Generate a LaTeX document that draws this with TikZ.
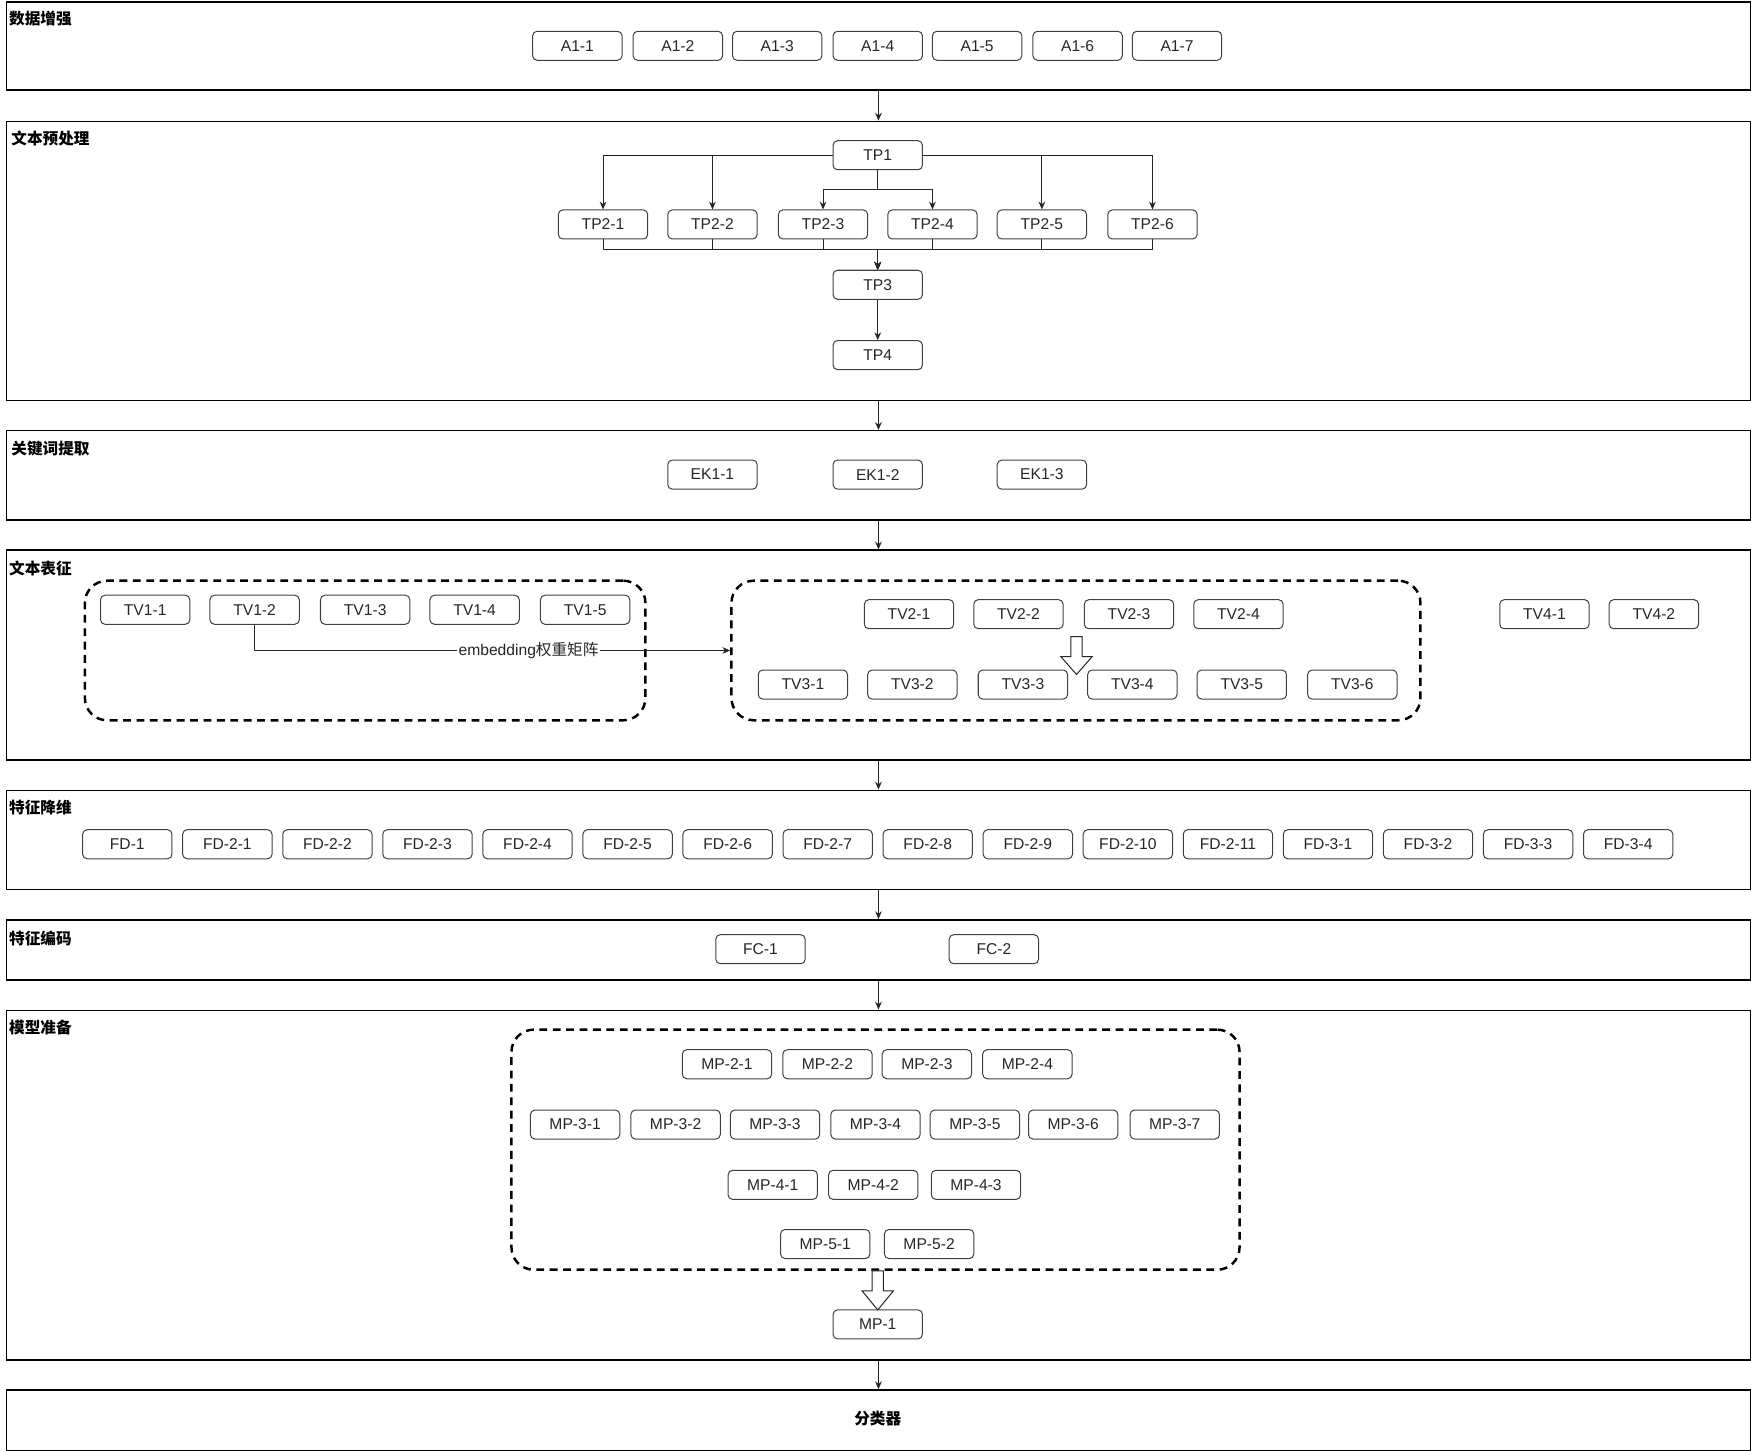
\documentclass[tikz,border=0pt]{standalone}
\usepackage{fontspec}
\setmainfont{Liberation Sans}
\newfontfamily\cjk{Noto Sans CJK SC}
\usetikzlibrary{arrows.meta,calc}
\begin{document}
\begin{tikzpicture}[x=1pt,y=-1pt,
  lane/.style={draw=black, line width=1.3pt, anchor=north west, minimum width=1562pt, inner sep=0pt},
  box/.style={draw=black!75, rounded corners=4pt, minimum width=80pt, minimum height=26pt,
    inner sep=0pt, font=\fontsize{14}{16}\selectfont, text=black!85, line width=0.9pt},
  title/.style={anchor=west, inner sep=0pt, font=\cjk\bfseries\fontsize{14}{16}\selectfont},
  flow/.style={-{Stealth[length=7pt,width=6pt]}, line width=0.9pt, draw=black!85},
  group/.style={draw, dash pattern=on 7pt off 5pt, line width=2.2pt, rounded corners=20pt, inner sep=0pt},
  hollow/.style={draw=black!85, fill=white, line width=0.9pt, line join=miter}
]
\useasboundingbox (0,0) rectangle (1568,1299);

% ---- swimlanes ----
\node[lane, minimum height=79pt]  (L1) at (5,1) {};
\node[lane, minimum height=250pt] (L2) at (5,108) {};
\node[lane, minimum height=80pt]  (L3) at (5,385) {};
\node[lane, minimum height=188pt] (L4) at (5,492) {};
\node[lane, minimum height=89pt]  (L5) at (5,707) {};
\node[lane, minimum height=54pt]  (L6) at (5,823) {};
\node[lane, minimum height=313pt] (L7) at (5,904) {};
\node[lane, minimum height=54pt]  (L8) at (5,1244) {};

\node[title] (t1) at (8,17)   {数据增强};
\node[title] (t2) at (10,124) {文本预处理};
\node[title] (t3) at (10,402) {关键词提取};
\node[title] (t4) at (8,509)  {文本表征};
\node[title] (t5) at (8,723)  {特征降维};
\node[title] (t6) at (8,840)  {特征编码};
\node[title] (t7) at (8,920)  {模型准备};
\node[title, anchor=center] (t8) at (786,1270) {分类器};

\foreach \a/\b in {L1/L2,L2/L3,L3/L4,L4/L5,L5/L6,L6/L7,L7/L8}
  \draw[flow] (\a.south) -- (\b.north);

% ---- data augmentation ----
\foreach \i/\x in {1/517,2/607,3/696,4/786,5/875,6/965,7/1054}
  \node[box] (A1-\i) at (\x,41) {A1-\i};

% ---- text preprocessing ----
\node[box] (TP1) at (786,139) {TP1};
\foreach \i/\x in {1/540,2/638,3/737,4/835,5/933,6/1032}
  \node[box] (TP2-\i) at (\x,201) {TP2-\i};
\node[box] (TP3) at (786,255) {TP3};
\node[box] (TP4) at (786,318) {TP4};

\draw[flow] (TP1.west) -| (TP2-1.north);
\draw[flow] (TP1.west) -| (TP2-2.north);
\draw[flow] (TP1.east) -| (TP2-5.north);
\draw[flow] (TP1.east) -| (TP2-6.north);
\coordinate (split) at (786,170);
\draw[flow] (TP1.south) -- (split) -| (TP2-3.north);
\draw[flow] (TP1.south) -- (split) -| (TP2-4.north);
\coordinate (bus) at (786,223.5);
\foreach \i in {1,...,6}
  \draw[flow] (TP2-\i.south) |- (bus) -- (TP3.north);
\draw[flow] (TP3) -- (TP4);

% ---- keyword extraction ----
\foreach \i/\x in {1/638,2/786,3/933}
  \node[box] (EK1-\i) at (\x,425) {EK1-\i};

% ---- text representation ----
\node[group, minimum width=502pt, minimum height=125pt] (G1) at (327,582.5) {};
\node[group, minimum width=617pt, minimum height=125pt] (G2) at (963.5,582.5) {};
\foreach \i/\x in {1/130,2/228,3/327,4/425,5/524}
  \node[box] (TV1-\i) at (\x,546) {TV1-\i};
\foreach \i/\x in {1/814,2/912,3/1011,4/1109}
  \node[box] (TV2-\i) at (\x,550) {TV2-\i};
\foreach \i/\x in {1/719,2/817,3/916,4/1014,5/1112,6/1211}
  \node[box] (TV3-\i) at (\x,613) {TV3-\i};
\foreach \i/\x in {1/1383,2/1481}
  \node[box] (TV4-\i) at (\x,550) {TV4-\i};

\draw[flow] (TV1-2.south) |- (G2.west)
  node[pos=0.788, fill=white, inner sep=1pt, font=\fontsize{14}{16}\selectfont, text=black!85]
  {embedding{\cjk 权重矩阵}};

\draw[hollow] (959,570) -- (969,570) -- (969,588) -- (978,588) -- (964,604)
  -- (950,588) -- (959,588) -- cycle;

% ---- feature reduction ----
\node[box] (FD-1) at (114,756) {FD-1};
\foreach \i in {1,...,11}
  \node[box] (FD-2-\i) at ({114+89.6*\i},756) {FD-2-\i};
\foreach \i in {1,...,4}
  \node[box] (FD-3-\i) at ({114+89.6*(\i+11)},756) {FD-3-\i};

% ---- feature encoding ----
\node[box] (FC-1) at (681,850) {FC-1};
\node[box] (FC-2) at (890,850) {FC-2};

% ---- model preparation ----
\node[group, minimum width=652pt, minimum height=215pt] (G3) at (784,1029.5) {};
\foreach \i/\x in {1/651,2/741,3/830,4/920}
  \node[box] (MP-2-\i) at (\x,953) {MP-2-\i};
\foreach \i/\x in {1/515,2/605,3/694,4/784,5/873,6/961,7/1052}
  \node[box] (MP-3-\i) at (\x,1007) {MP-3-\i};
\foreach \i/\x in {1/692,2/782,3/874}
  \node[box] (MP-4-\i) at (\x,1061) {MP-4-\i};
\foreach \i/\x in {1/739,2/832}
  \node[box] (MP-5-\i) at (\x,1114) {MP-5-\i};
\node[box] (MP-1) at (786,1186) {MP-1};

\draw[hollow] (781,1138) -- (791,1138) -- (791,1156) -- (800,1156) -- (786,1173)
  -- (772,1156) -- (781,1156) -- cycle;

\end{tikzpicture}
\end{document}
